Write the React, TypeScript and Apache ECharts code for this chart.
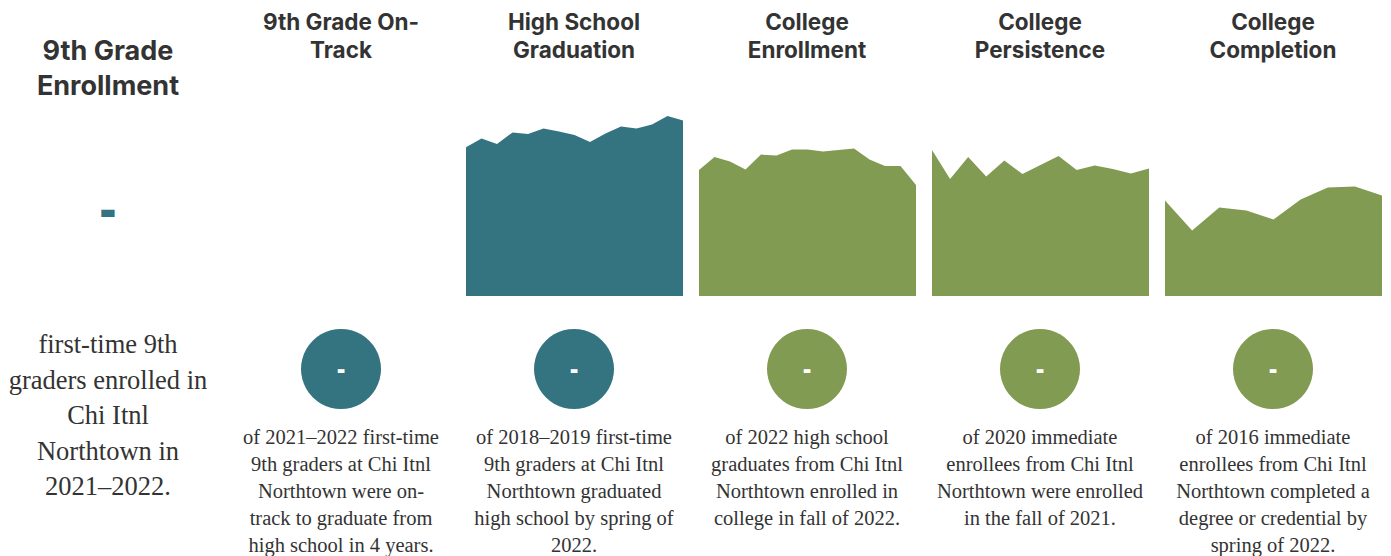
import React, { useEffect, useRef } from "react";
import * as echarts from "echarts";

const TEAL = "#347380";
const GREEN = "#829b52";
const TEXT = "#333333";

// Trend values (percent)
const hsGradYears = ["2008", "2009", "2010", "2011", "2012", "2013", "2014", "2015", "2016", "2017", "2018", "2019", "2020", "2021", "2022"];
const hsGraduation = [74.4, 78.7, 76, 81.8, 81, 83.8, 82.2, 80.5, 77, 81.3, 84.8, 83.7, 85.8, 90, 87.8];

const enrollYears = ["2008", "2009", "2010", "2011", "2012", "2013", "2014", "2015", "2016", "2017", "2018", "2019", "2020", "2021", "2022"];
const collegeEnrollment = [63, 69.5, 67.2, 63.2, 70.7, 70.2, 73.3, 73.2, 72.2, 73, 73.7, 68.2, 65, 65, 55.5];

const persistYears = ["2009", "2010", "2011", "2012", "2013", "2014", "2015", "2016", "2017", "2018", "2019", "2020", "2021"];
const collegePersistence = [73, 58.5, 69.5, 59.7, 67.8, 61, 65.5, 70, 63, 65.3, 63.5, 61.2, 63.8];

const completeYears = ["2008", "2009", "2010", "2011", "2012", "2013", "2014", "2015", "2016"];
const collegeCompletion = [47.7, 32.7, 44.3, 42.7, 38.3, 48.3, 54.3, 54.7, 50.2];

const headers = [
  "9th Grade On-\nTrack",
  "High School\nGraduation",
  "College\nEnrollment",
  "College\nPersistence",
  "College\nCompletion",
];
const descriptions = [
  "of 2021–2022 first-time\n9th graders at Chi Itnl\nNorthtown were on-\ntrack to graduate from\nhigh school in 4 years.",
  "of 2018–2019 first-time\n9th graders at Chi Itnl\nNorthtown graduated\nhigh school by spring of\n2022.",
  "of 2022 high school\ngraduates from Chi Itnl\nNorthtown enrolled in\ncollege in fall of 2022.",
  "of 2020 immediate\nenrollees from Chi Itnl\nNorthtown were enrolled\nin the fall of 2021.",
  "of 2016 immediate\nenrollees from Chi Itnl\nNorthtown completed a\ndegree or credential by\nspring of 2022.",
];
const circleValues = ["-", "-", "-", "-", "-"];
const circleColors = [TEAL, TEAL, GREEN, GREEN, GREEN];
const leftHeader = "9th Grade\nEnrollment";
const leftValue = "-";
const leftDescription = "first-time 9th\ngraders enrolled in\nChi Itnl\nNorthtown in\n2021–2022.";

const HEAD = "Inter, Lato, sans-serif";
const SANS = "'Open Sans', Lato, sans-serif";
const SERIF = "'Liberation Serif', 'DejaVu Serif', serif";

const panelCenters = [108, 341, 574, 807, 1040, 1273];
const areaLefts = [466, 699, 932, 1165];
const areaWidth = 217;
const gridTop = 96;
const gridHeight = 200;

// One multi-line text block; firstLineY is the vertical centre of its first line
function block(text: string, cx: number, firstLineY: number, lh: number, font: string, fill: string) {
  return {
    type: "text",
    silent: true,
    style: {
      text,
      x: cx,
      y: firstLineY - lh / 2,
      textAlign: "center",
      textVerticalAlign: "top",
      lineHeight: lh,
      font,
      fill,
    },
  };
}

export default function App() {
  const ref = useRef<HTMLDivElement>(null);
  useEffect(() => {
    const chart = echarts.init(ref.current!, null, { renderer: "svg" });
    const areaSets = [
      { cats: hsGradYears, data: hsGraduation, color: TEAL },
      { cats: enrollYears, data: collegeEnrollment, color: GREEN },
      { cats: persistYears, data: collegePersistence, color: GREEN },
      { cats: completeYears, data: collegeCompletion, color: GREEN },
    ];
    const graphic: any[] = [];
    graphic.push(block(leftHeader, panelCenters[0], 50, 35, `700 27px ${HEAD}`, TEXT));
    graphic.push(block(leftValue, panelCenters[0], 207, 50, `800 48px ${SANS}`, TEAL));
    graphic.push(block(leftDescription, panelCenters[0], 344, 35.5, `400 26.5px ${SERIF}`, TEXT));
    headers.forEach((h, i) => {
      const cx = panelCenters[i + 1];
      graphic.push(block(h, cx, 21, 28.5, `700 22.5px ${HEAD}`, TEXT));
      graphic.push({
        type: "circle",
        silent: true,
        shape: { cx, cy: 369, r: 40 },
        style: { fill: circleColors[i] },
      });
      graphic.push(block(circleValues[i], cx, 368, 26, `800 24px ${SANS}`, "#ffffff"));
      graphic.push(block(descriptions[i], cx, 437, 27, `400 20.5px ${SERIF}`, TEXT));
    });

    chart.setOption({
      animation: false,
      grid: areaSets.map((_, i) => ({
        left: areaLefts[i],
        top: gridTop,
        width: areaWidth,
        height: gridHeight,
      })),
      xAxis: areaSets.map((s, i) => ({
        type: "category",
        gridIndex: i,
        data: s.cats,
        boundaryGap: false,
        show: false,
      })),
      yAxis: areaSets.map((_, i) => ({
        type: "value",
        gridIndex: i,
        min: 0,
        max: 100,
        show: false,
      })),
      series: areaSets.map((s, i) => ({
        type: "line",
        xAxisIndex: i,
        yAxisIndex: i,
        data: s.data,
        symbol: "none",
        silent: true,
        lineStyle: { width: 0, color: s.color },
        areaStyle: { color: s.color, opacity: 1 },
      })),
      graphic,
    });
    return () => chart.dispose();
  }, []);
  return (
    <div
      ref={ref}
      style={{ position: "fixed", left: 0, top: 0, width: 1391, height: 556, background: "#ffffff" }}
    />
  );
}
